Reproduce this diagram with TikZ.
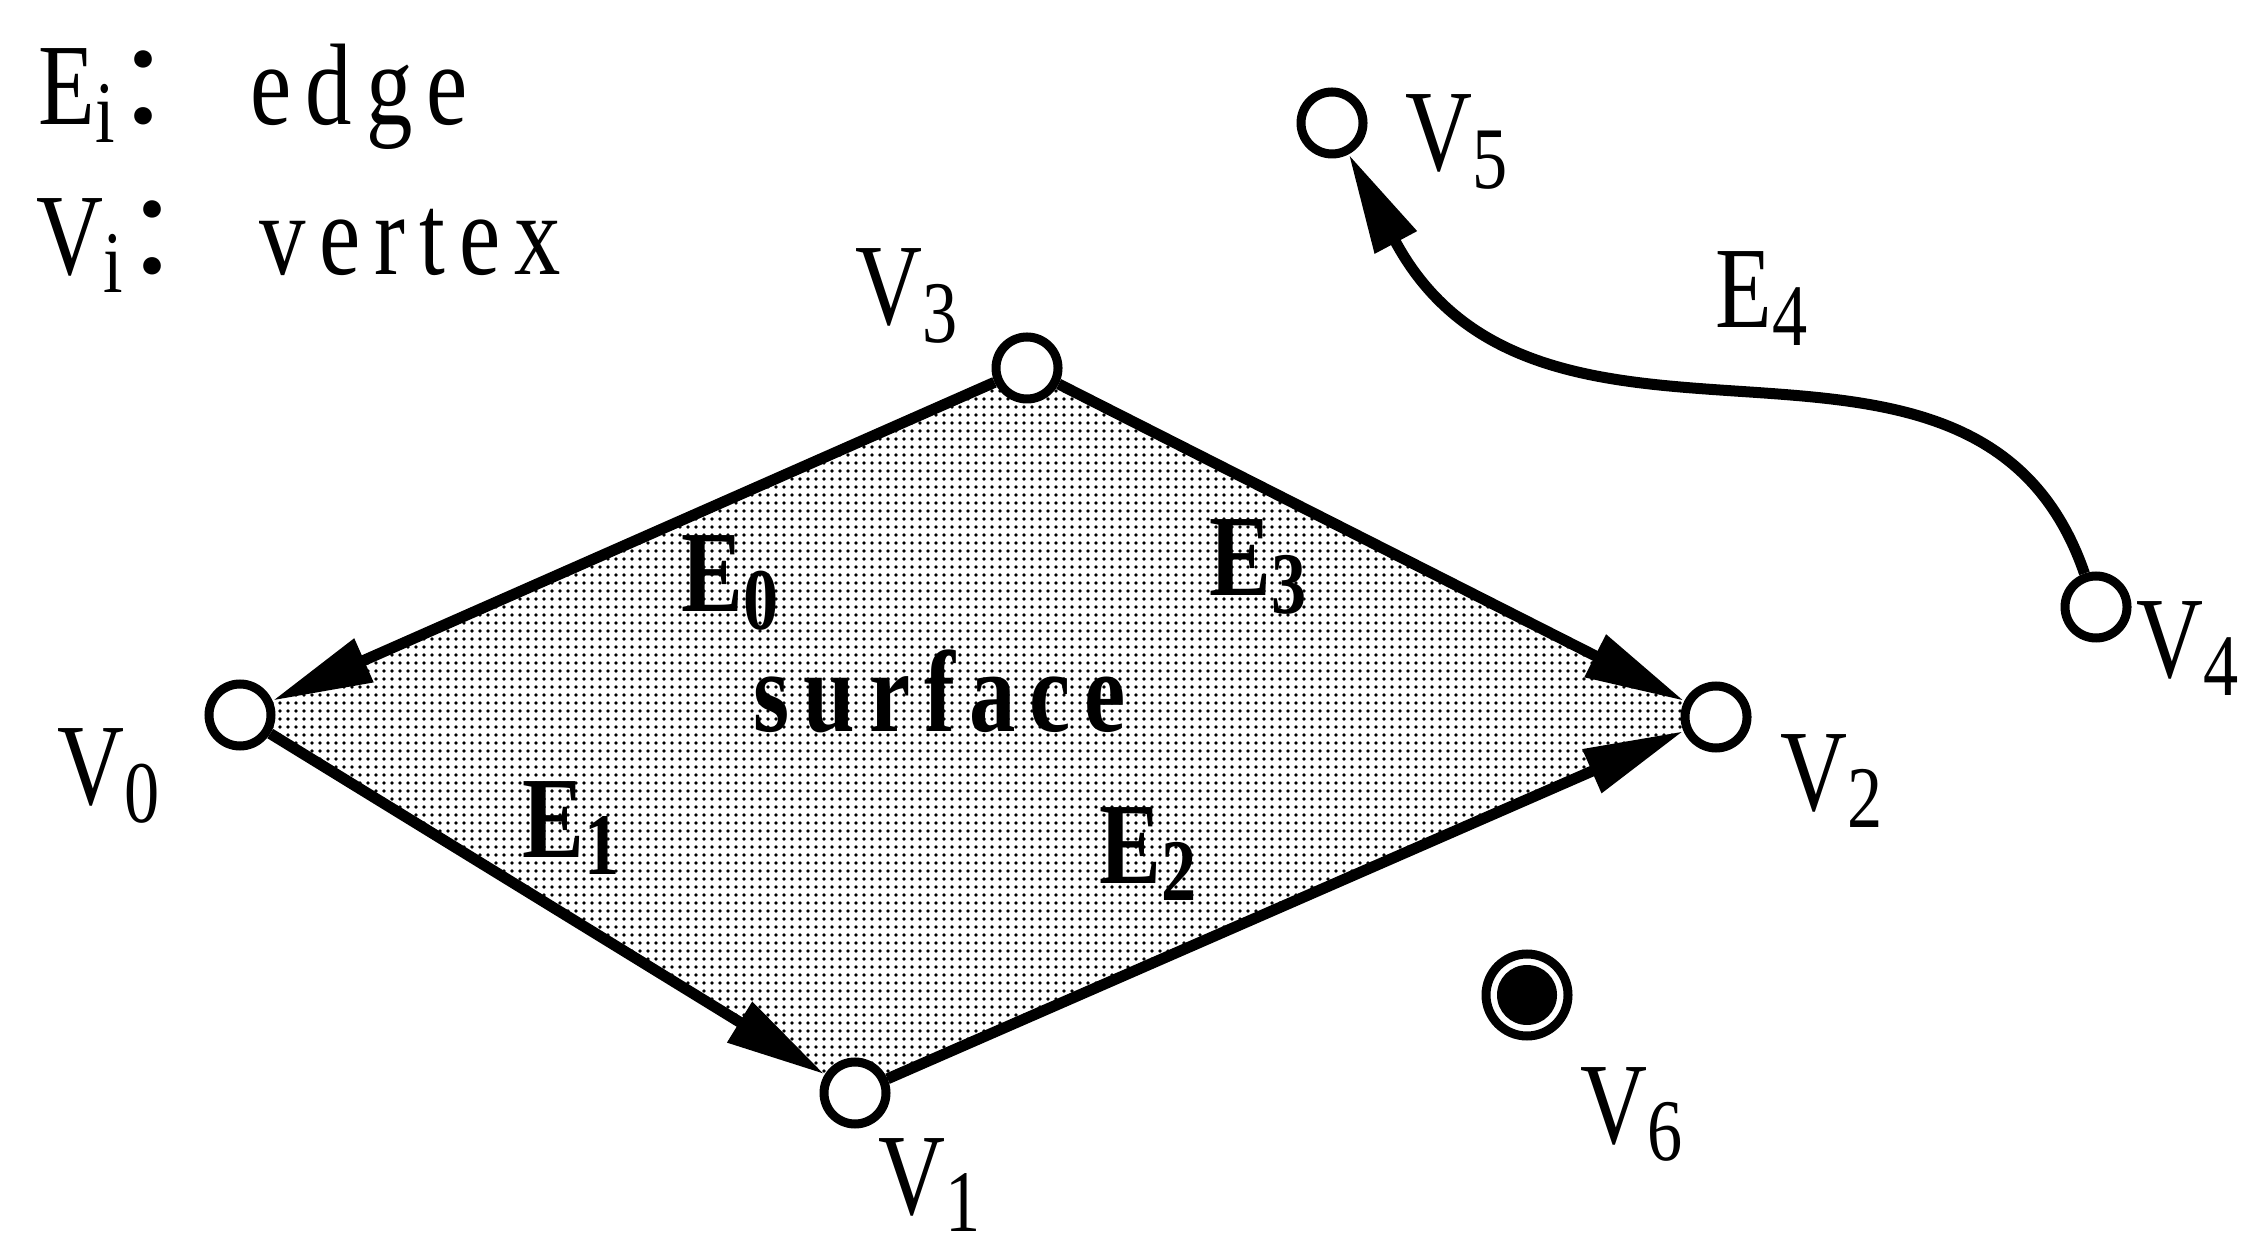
\documentclass[tikz,border=0pt]{standalone}
\usepackage{fontspec}
\setmainfont{Liberation Serif}[FakeStretch=0.8]
\newfontfamily\wordfont{Liberation Serif}[FakeStretch=0.8, LetterSpace=12]
\newfontfamily\cjk{Noto Sans CJK SC}
\usetikzlibrary{arrows.meta, patterns.meta, backgrounds}
\newcommand{\vsub}[1]{\raisebox{-5pt}{\fontsize{25}{25}\selectfont #1}}

\begin{document}
\begin{tikzpicture}[>={Triangle[length=1cm, width=0.45cm]},
    font=\fontsize{33}{40}\selectfont,
    vert/.style={circle, draw, fill=white, line width=0.09cm, minimum size=0.62cm, inner sep=0pt},
    iso/.style={vert, minimum size=0.82cm,
        path picture={\fill[black] (path picture bounding box.center) circle (0.3cm);}},
    lbl/.style={anchor=base west, inner sep=0pt},
    edg/.style={->, line width=0.11cm}]
    \useasboundingbox (0,0) rectangle (22.41,12.47);

    % Chú thích
    \node[lbl] (keyE) at (0.38,11.22) {E\vsub{i}{\cjk ：}\hspace{0.2cm}{\wordfont edge}};
    \node[lbl] (keyV) at (0.36,9.72) {V\vsub{i}{\cjk ：}\hspace{0.2cm}{\wordfont vertex}};

    % Các đỉnh
    \node[vert] (v0) at (2.40,5.32) {};
    \node[vert] (v1) at (8.55,1.54) {};
    \node[vert] (v2) at (17.16,5.30) {};
    \node[vert] (v3) at (10.27,8.79) {};
    \node[vert] (v4) at (20.96,6.40) {};
    \node[vert] (v5) at (13.32,11.24) {};
    \node[iso] (v6) at (15.27,2.52) {};

    % Mặt (tô chấm)
    \begin{scope}[on background layer]
        \fill[pattern={Dots[distance=0.8mm, radius=0.18mm]}]
            (v0.center) -- (v1.center) -- (v2.center) -- (v3.center) -- cycle;
    \end{scope}

    % Các cạnh
    \draw[edg] (v3) -- (v0);
    \draw[edg] (v0) -- (v1);
    \draw[edg] (v1) -- (v2);
    \draw[edg] (v3) -- (v2);
    \draw[edg] (v4) .. controls (19.76,9.88) and (15.42,7.31) .. (v5);

    % Nhãn đỉnh
    \node[lbl] (lv0) at (0.57,4.42) {V\vsub{0}};
    \node[lbl] (lv1) at (8.78,0.33) {V\vsub{1}};
    \node[lbl] (lv2) at (17.80,4.37) {V\vsub{2}};
    \node[lbl] (lv3) at (8.55,9.22) {V\vsub{3}};
    \node[lbl] (lv4) at (21.36,5.69) {V\vsub{4}};
    \node[lbl] (lv5) at (14.05,10.76) {V\vsub{5}};
    \node[lbl] (lv6) at (15.80,1.04) {V\vsub{6}};

    % Nhãn cạnh và mặt
    \node[lbl] (le0) at (6.81,6.35) {\bfseries E\vsub{0}};
    \node[lbl] (le1) at (5.22,3.90) {\bfseries E\vsub{1}};
    \node[lbl] (le2) at (10.99,3.64) {\bfseries E\vsub{2}};
    \node[lbl] (le3) at (12.09,6.51) {\bfseries E\vsub{3}};
    \node[lbl] (le4) at (17.15,9.19) {E\vsub{4}};
    \node[lbl] (surf) at (7.53,5.15) {\wordfont\bfseries surface};

\end{tikzpicture}
\end{document}
